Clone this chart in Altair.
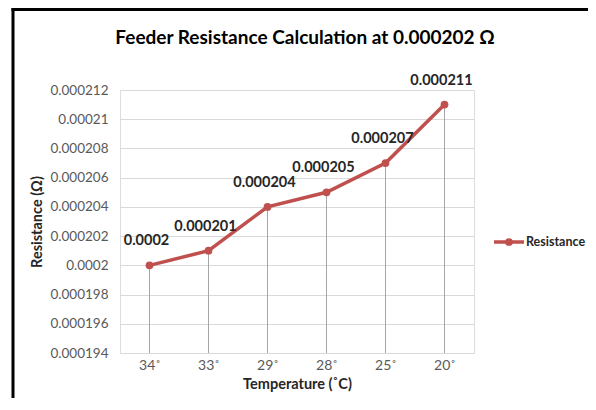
import altair as alt
import pandas as pd

temps = ["34˚", "33˚", "29˚", "28˚", "25˚", "20˚"]
values = [0.0002, 0.000201, 0.000204, 0.000205, 0.000207, 0.000211]
y_ticks = [0.000194, 0.000196, 0.000198, 0.0002, 0.000202, 0.000204,
           0.000206, 0.000208, 0.00021, 0.000212]
series_name = ["Resistance"]
chart_title = ["Feeder Resistance Calculation at 0.000202 Ω"]

FONT = "Lato"
RED = "#C0504D"
W, H = 354, 263

df = pd.DataFrame({"Temperature": temps, "Resistance": values})

x_enc = alt.X(
    "Temperature:N", sort=temps,
    scale=alt.Scale(type="point", padding=0.5),
    axis=alt.Axis(title="Temperature (˚C)", labelAngle=0, ticks=False,
                  domain=True, domainColor="#D9D9D9", labelPadding=5,
                  labelFontSize=14, labelColor="#595959", labelFont=FONT,
                  titleFont=FONT, titleFontSize=14.5, titleFontWeight="bold",
                  titleColor="#262626", titlePadding=5),
)
y_enc = alt.Y(
    "Resistance:Q",
    scale=alt.Scale(domain=[y_ticks[0], y_ticks[-1]], nice=False, zero=False),
    axis=alt.Axis(values=y_ticks, format=".6~f", grid=True, gridColor="#D9D9D9",
                  domain=False, ticks=False, labelPadding=12, labelFontSize=13.5,
                  labelColor="#595959", labelFont=FONT, title="Resistance (Ω)",
                  titleFont=FONT, titleFontSize=14.5, titleFontWeight="bold",
                  titleColor="#262626", titlePadding=6),
)

base = alt.Chart(df)
drops = base.mark_rule(color="#A6A6A6", strokeWidth=1).encode(
    x=x_enc, y=y_enc, y2=alt.datum(y_ticks[0]))
line = base.mark_line(color=RED, strokeWidth=3.5).encode(x=x_enc, y=y_enc)
pts = base.mark_circle(color=RED, size=60, opacity=1).encode(x=x_enc, y=y_enc)
labels = base.mark_text(font=FONT, fontSize=14.5, fontWeight="bold", color="#262626",
                        dy=-24, dx=-3).encode(
    x=x_enc, y=y_enc, text=alt.Text("Resistance:Q", format=".6~f"))

leg_df = pd.DataFrame({"name": series_name})
leg = alt.Chart(leg_df)
leg_line = leg.mark_rule(color=RED, strokeWidth=3.5).encode(
    x=alt.value(374), x2=alt.value(404), y=alt.value(152))
leg_pt = leg.mark_circle(color=RED, size=60, opacity=1).encode(
    x=alt.value(389), y=alt.value(152))
leg_txt = leg.mark_text(font=FONT, fontSize=12.5, fontWeight="bold", color="#262626",
                        align="left", baseline="middle").encode(
    x=alt.value(406), y=alt.value(152), text="name:N")

title_df = pd.DataFrame({"t": chart_title})
title_txt = alt.Chart(title_df).mark_text(
    font=FONT, fontSize=19, fontWeight="bold", color="#000000",
    align="center", baseline="middle").encode(
    x=alt.value(185), y=alt.value(-52), text="t:N")

border_l = leg.mark_rule(color="black", strokeWidth=3).encode(
    x=alt.value(-107), y=alt.value(-82), y2=alt.value(330))
border_t = leg.mark_rule(color="black", strokeWidth=3).encode(
    x=alt.value(-108.5), x2=alt.value(470), y=alt.value(-80.5))

chart = alt.layer(drops, line, pts, labels, leg_line, leg_pt, leg_txt,
                  title_txt, border_l, border_t).properties(
    width=W, height=H,
    autosize=alt.AutoSizeParams(type="none"),
    padding={"left": 112, "top": 82, "right": 114, "bottom": 45},
).configure_view(stroke=None).configure(background="white")

chart.save("out.html", embed_options={"renderer": "svg", "actions": False})
